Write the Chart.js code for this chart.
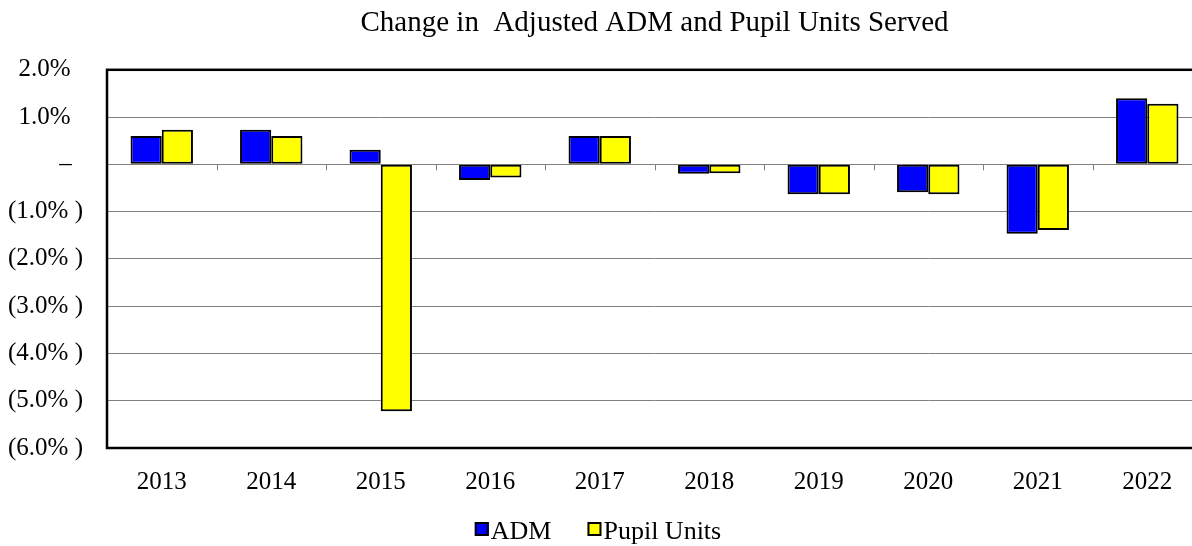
<!DOCTYPE html>
<html>
<head>
<meta charset="utf-8">
<script src="https://cdn.jsdelivr.net/npm/chart.js@4.4.1/dist/chart.umd.min.js"></script>
<style>
  html, body { margin: 0; padding: 0; background: #fff; overflow: hidden; }
  #wrap { width: 1192px; height: 546px; overflow: hidden; position: relative; }
  #box { width: 1204px; height: 546px; position: absolute; left: 0; top: 0; }
</style>
</head>
<body>
<div id="wrap"><div id="box"><canvas id="c"></canvas></div></div>
<script>
const categories = ["2013","2014","2015","2016","2017","2018","2019","2020","2021","2022"];
const admValues = [0.60, 0.73, 0.31, -0.33, 0.60, -0.20, -0.63, -0.59, -1.47, 1.40];
const pupilValues = [0.73, 0.60, -5.22, -0.28, 0.60, -0.19, -0.63, -0.63, -1.39, 1.28];
const tickValues = [2, 1, 0, -1, -2, -3, -4, -5, -6];
const tickLabels = ["2.0%\u00a0\u00a0", "1.0%\u00a0\u00a0", "\u2013\u00a0\u2009", "(1.0%\u00a0)", "(2.0%\u00a0)", "(3.0%\u00a0)", "(4.0%\u00a0)", "(5.0%\u00a0)", "(6.0%\u00a0)"];
const titleText = "Change in  Adjusted ADM and Pupil Units Served";
const seriesNames = ["ADM", "Pupil Units"];
const seriesColors = ["#0000ff", "#ffff00"];

const FONT = "'Liberation Serif', 'Times New Roman', serif";

const framePlugin = {
  id: 'frame',
  afterDatasetsDraw(chart) {
    const {ctx, chartArea: a, scales: {x, y}} = chart;
    ctx.save();
    const y0 = y.getPixelForValue(0);
    ctx.strokeStyle = '#808080';
    ctx.lineWidth = 1;
    for (let i = 1; i < categories.length; i++) {
      const px = Math.round((x.getPixelForValue(i - 1) + x.getPixelForValue(i)) / 2) + 0.5;
      ctx.beginPath();
      ctx.moveTo(px, y0);
      ctx.lineTo(px, y0 + 6);
      ctx.stroke();
    }
    ctx.strokeStyle = '#000';
    ctx.lineWidth = 2.5;
    ctx.strokeRect(a.left, a.top, a.right - a.left, a.bottom - a.top);
    ctx.restore();
  },
  afterDraw(chart) {
    const ctx = chart.ctx;
    ctx.save();
    ctx.font = "26px " + FONT;
    ctx.textBaseline = 'middle';
    const box = 14, gap = 2, itemGap = 36;
    const widths = chart.data.datasets.map(d => box + gap + ctx.measureText(d.label).width);
    const total = widths.reduce((s, w) => s + w, 0) + itemGap * (widths.length - 1);
    let xPos = chart.width / 2 - total / 2 - 4;
    const yc = 531;
    chart.data.datasets.forEach((d, i) => {
      ctx.fillStyle = d.backgroundColor;
      ctx.fillRect(xPos, yc - box / 2 - 2, box, box);
      ctx.strokeStyle = '#000';
      ctx.lineWidth = 2;
      ctx.strokeRect(xPos + 1, yc - box / 2 - 1, box - 2, box - 2);
      ctx.fillStyle = '#000';
      ctx.textAlign = 'left';
      ctx.fillText(d.label, xPos + box + gap, yc + 1);
      xPos += widths[i] + itemGap;
    });
    ctx.restore();
  }
};

new Chart(document.getElementById('c'), {
  type: 'bar',
  data: {
    labels: categories,
    datasets: [
      { label: seriesNames[0], data: admValues, backgroundColor: seriesColors[0], borderColor: '#000', borderWidth: 2, borderSkipped: false, categoryPercentage: 0.57, barPercentage: 1.0 },
      { label: seriesNames[1], data: pupilValues, backgroundColor: seriesColors[1], borderColor: '#000', borderWidth: 2, borderSkipped: false, categoryPercentage: 0.57, barPercentage: 1.0 }
    ]
  },
  options: {
    responsive: true,
    maintainAspectRatio: false,
    animation: false,
    layout: { padding: { left: 0, right: 2, top: 0, bottom: 30 } },
    plugins: {
      title: {
        display: true, text: titleText, color: '#000',
        font: { family: FONT, size: 29, weight: 'normal', lineHeight: 1.2 },
        padding: { top: 6, bottom: 29 },
        fullSize: false
      },
      legend: { display: false },
      tooltip: { enabled: false }
    },
    scales: {
      x: {
        grid: { display: false, drawTicks: false },
        border: { display: false },
        ticks: { color: '#000', font: { family: FONT, size: 25, lineHeight: 1.2 }, padding: 19, maxRotation: 0 }
      },
      y: {
        min: -6, max: 2,
        afterBuildTicks(axis) { axis.ticks = tickValues.map(v => ({ value: v })); },
        afterFit(axis) { axis.width = 107; },
        grid: { color: '#808080', lineWidth: 1, drawTicks: false },
        border: { display: false },
        ticks: {
          color: '#000', font: { family: FONT, size: 25 }, padding: 24,
          callback(v) { const i = tickValues.indexOf(v); return i >= 0 ? tickLabels[i] : ''; }
        }
      }
    }
  },
  plugins: [framePlugin]
});
</script>
</body>
</html>
